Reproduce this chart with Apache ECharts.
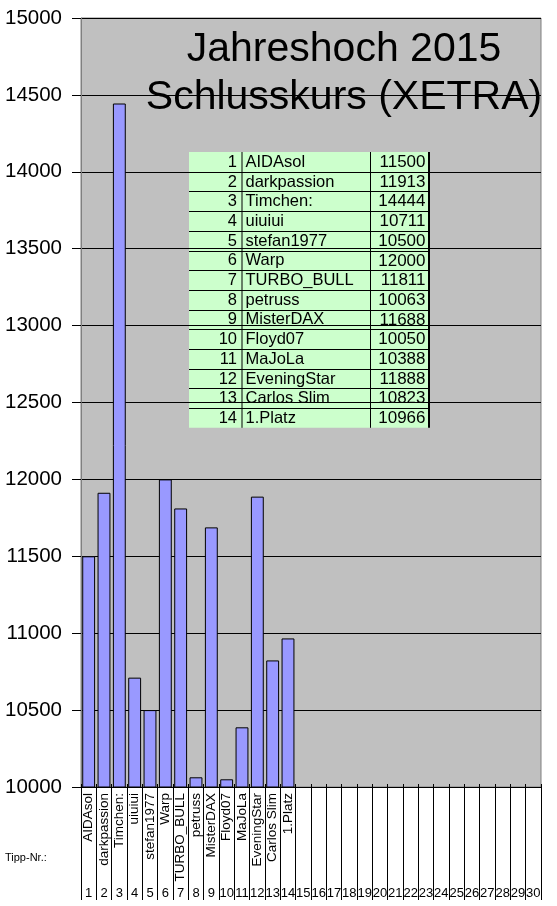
<!DOCTYPE html>
<html>
<head>
<meta charset="utf-8">
<script src="https://cdn.jsdelivr.net/npm/echarts@6/dist/echarts.min.js"></script>
<style>
html,body{margin:0;padding:0;background:#fff;}
#c{width:557px;height:906px;}
</style>
</head>
<body>
<div id="c"></div>
<script>
// ---- data ----
var tipNr = ['1','2','3','4','5','6','7','8','9','10','11','12','13','14','15','16','17','18','19','20','21','22','23','24','25','26','27','28','29','30'];
var names = ['AIDAsol','darkpassion','Timchen:','uiuiui','stefan1977','Warp','TURBO_BULL','petruss','MisterDAX','Floyd07','MaJoLa','EveningStar','Carlos Slim','1.Platz'];
var values = [11500,11913,14444,10711,10500,12000,11811,10063,11688,10050,10388,11888,10823,10966];
var yTicks = [10000,10500,11000,11500,12000,12500,13000,13500,14000,14500,15000];
var titleLines = ['Jahreshoch 2015','Schlusskurs (XETRA)'];

var FONT = 'Liberation Sans, Arial, sans-serif';
var chart = echarts.init(document.getElementById('c'), null, {renderer:'canvas'});

// table graphic (layout only)
var tbl = {x:189, y:152, rowH:19.7, w:240, c1:53, c2:181.5};
var tChildren = [];
var nRows = names.length;
tChildren.push({type:'rect', shape:{x:0,y:0,width:tbl.w,height:tbl.rowH*nRows}, style:{fill:'#CCFFCC'}});
for (var i=1;i<nRows;i++){
  tChildren.push({type:'line', shape:{x1:0,y1:Math.round(i*tbl.rowH)+0.5,x2:tbl.w,y2:Math.round(i*tbl.rowH)+0.5}, style:{stroke:'#000',lineWidth:1}});
}
tChildren.push({type:'line', shape:{x1:tbl.c1,y1:0,x2:tbl.c1,y2:tbl.rowH*nRows}, style:{stroke:'#000',lineWidth:1}});
tChildren.push({type:'line', shape:{x1:tbl.c2,y1:0,x2:tbl.c2,y2:tbl.rowH*nRows}, style:{stroke:'#000',lineWidth:1}});
tChildren.push({type:'line', shape:{x1:tbl.w,y1:0,x2:tbl.w,y2:tbl.rowH*nRows}, style:{stroke:'#000',lineWidth:2}});
for (var r=0;r<nRows;r++){
  var cy = r*tbl.rowH + tbl.rowH/2 + 0.5;
  tChildren.push({type:'text', x:48, y:cy, style:{text:tipNr[r], fill:'#000', font:'16.5px '+FONT, textAlign:'right', textVerticalAlign:'middle'}});
  tChildren.push({type:'text', x:56.5, y:cy, style:{text:names[r], fill:'#000', font:'16.5px '+FONT, textAlign:'left', textVerticalAlign:'middle'}});
  tChildren.push({type:'text', x:236.5, y:cy, style:{text:String(values[r]), fill:'#000', font:'17px '+FONT, textAlign:'right', textVerticalAlign:'middle'}});
}

var catLabels = tipNr.map(function(t,i){ return i < names.length ? names[i] : ''; });
var barData = tipNr.map(function(t,i){ return i < values.length ? values[i] : '-'; });

var option = {
  animation:false,
  backgroundColor:'#fff',
  title:{
    text: titleLines.join('\n'),
    left: 339, top: 21, textAlign:'center',
    textStyle:{fontFamily:FONT, fontSize:41, fontWeight:'normal', color:'#000', lineHeight:48}
  },
  grid:{left:81, right:16, top:18, bottom:119, show:true, backgroundColor:'#C0C0C0', borderColor:'#808080', borderWidth:1},
  xAxis:[
    {
      type:'category', data:tipNr, position:'bottom',
      axisLine:{show:true, lineStyle:{color:'#000', width:1}},
      axisTick:{show:true, length:113, interval:0, lineStyle:{color:'#000', width:1}},
      axisLabel:{show:true, interval:0, rotate:90, margin:6, color:'#000', fontFamily:FONT, fontSize:13.5,
        formatter:function(v, idx){ return catLabels[idx]; }},
      splitLine:{show:false}
    },
    {
      type:'category', data:tipNr, position:'bottom',
      axisLine:{show:false}, axisTick:{show:false},
      axisLabel:{show:true, interval:0, margin:100, color:'#000', fontFamily:FONT, fontSize:13},
      splitLine:{show:false}
    },
    {
      type:'category', data:tipNr, position:'bottom',
      axisLine:{show:false},
      axisTick:{show:true, inside:true, length:3, interval:0, lineStyle:{color:'#000'}},
      axisLabel:{show:false}, splitLine:{show:false}
    }
  ],
  yAxis:{
    type:'value', min:yTicks[0], max:yTicks[yTicks.length-1], interval:yTicks[1]-yTicks[0],
    axisLine:{show:true, lineStyle:{color:'#808080'}},
    axisTick:{show:true, length:9, lineStyle:{color:'#000'}},
    axisLabel:{margin:19, color:'#000', fontFamily:FONT, fontSize:20.5, formatter:function(v){ return String(v); }},
    splitLine:{show:true, lineStyle:{color:'#000', width:1}}
  },
  series:[{
    type:'bar', xAxisIndex:0, data:barData, barCategoryGap:'16%',
    itemStyle:{color:'#9999FF', borderColor:'#000', borderWidth:1}
  }],
  graphic:[
    {type:'group', x:tbl.x, y:tbl.y, z:100, children:tChildren},
    {type:'text', x:5, y:858, z:100, style:{text:'Tipp-Nr.:', fill:'#000', font:'11px '+FONT, textAlign:'left', textVerticalAlign:'middle'}}
  ]
};
chart.setOption(option);
</script>
</body>
</html>
